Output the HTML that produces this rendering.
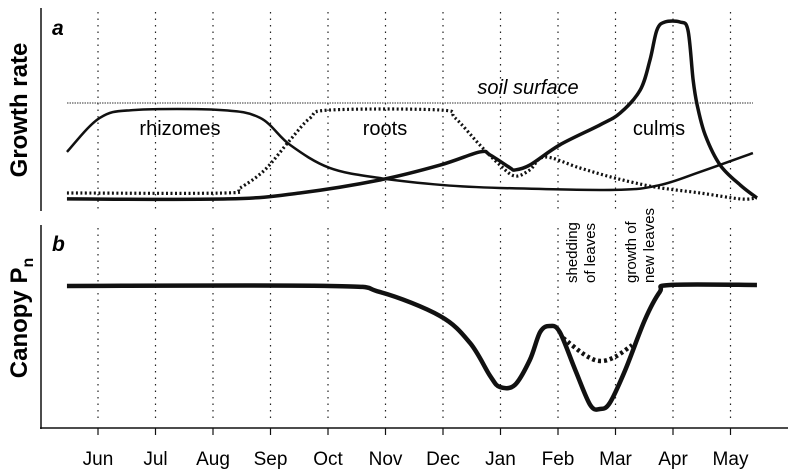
<!DOCTYPE html>
<html><head><meta charset="utf-8"><style>
body{margin:0;background:#fff}
svg{display:block;font-family:"Liberation Sans",Arial,sans-serif}
</style></head><body>
<svg id="chart" width="800" height="474" viewBox="0 0 800 474" xmlns="http://www.w3.org/2000/svg">
<g id="grid"></g>
<line x1="41" y1="8" x2="41" y2="211" stroke="#111" stroke-width="1.5"/>
<line x1="41" y1="225" x2="41" y2="429" stroke="#111" stroke-width="1.5"/>
<line x1="40" y1="428" x2="788" y2="428" stroke="#111" stroke-width="1.5"/>
<text transform="translate(27,110) rotate(-90)" text-anchor="middle" font-size="24" font-weight="bold">Growth rate</text>
<text transform="translate(27,318) rotate(-90)" text-anchor="middle" font-size="24" font-weight="bold">Canopy P<tspan font-size="16" dy="6">n</tspan></text>
<text x="52" y="35" font-size="21" font-weight="bold" font-style="italic">a</text>
<text x="52" y="251" font-size="21" font-weight="bold" font-style="italic">b</text>
<line x1="67" y1="103" x2="753" y2="103" stroke="#333" stroke-width="1" stroke-dasharray="1.5,1"/>
<text x="528" y="94" text-anchor="middle" font-size="20" font-style="italic">soil surface</text>
<text x="180" y="135" text-anchor="middle" font-size="20">rhizomes</text>
<text x="385" y="135" text-anchor="middle" font-size="20">roots</text>
<text x="659" y="135" text-anchor="middle" font-size="20">culms</text>
<text transform="translate(577,283) rotate(-90)" font-size="15">shedding</text>
<text transform="translate(595,283) rotate(-90)" font-size="15">of leaves</text>
<text transform="translate(636,283) rotate(-90)" font-size="15">growth of</text>
<text transform="translate(654,283) rotate(-90)" font-size="15">new leaves</text>
<g id="series"></g>
<g id="xaxis"></g>
</svg>
<script>
const months=["Jun","Jul","Aug","Sep","Oct","Nov","Dec","Jan","Feb","Mar","Apr","May"];
const rhizomeX=[-0.54,0.03,0.64,2.12,2.82,3.34,4.03,4.9,6.0,6.99,8.99,9.77,10.47,11.39];
const rhizomeV=[26.7,45.6,50,50,45.6,30.6,17.8,12.2,8.3,6.7,5.6,8.3,15.6,26.1];
const rootX=[-0.54,2.21,2.47,2.9,3.34,3.69,4.03,5.95,6.21,6.64,6.99,7.25,7.51,7.77,8.38,8.99,9.69,10.47,11.17,11.46];
const rootV=[3.9,3.9,6.7,16.7,33.3,45.6,50,50,45.6,30.6,19.4,13.3,16.7,23.9,17.8,12.2,7.2,3.9,0.6,1.1];
const culmX=[-0.54,2.26,3.51,4.9,5.95,6.64,6.82,7.17,7.25,7.51,8.03,8.73,9.08,9.43,9.6,9.72,9.86,10.12,10.26,10.35,10.42,10.56,10.82,11.17,11.46];
const culmV=[0.6,0.6,3.9,11.1,19.4,26.7,25,17.8,16.7,19.4,30.6,41.7,48.3,61.1,77.8,94.4,98.9,98.9,94.4,66.7,52.8,36.1,19.4,8.3,1.1];
const pnX=[-0.54,4.03,4.9,5.95,6.47,6.82,6.99,7.25,7.51,7.69,7.86,8.03,8.3,8.56,8.73,8.9,9.17,9.51,9.77,9.95,11.46];
const pnV=[88.6,88.6,84.3,67.1,47.9,24.3,16.4,17.9,35.7,55.7,60,55.7,28.6,3.6,0.7,5,28.6,64.3,84.3,89.3,89.3];
const altX=[8.09,8.47,8.73,8.99,9.29];
const altV=[51.4,39.3,35,37.9,46.4];
const xS=i=>98+57.5*i;
const yA=v=>200-v*1.8;
const yB=v=>410-v*1.4;
const NS="http://www.w3.org/2000/svg";
function mk(t,a,p){const e=document.createElementNS(NS,t);for(const k in a)e.setAttribute(k,a[k]);p.appendChild(e);return e;}
function path(xs,vs,ys){const P=xs.map((x,i)=>[xS(x),ys(vs[i])]);let d="M"+P[0][0]+","+P[0][1];
for(let i=0;i<P.length-1;i++){const p0=P[i-1]||P[i],p1=P[i],p2=P[i+1],p3=P[i+2]||p2;
d+=" C"+(p1[0]+(p2[0]-p0[0])/6)+","+(p1[1]+(p2[1]-p0[1])/6)+" "+(p2[0]-(p3[0]-p1[0])/6)+","+(p2[1]-(p3[1]-p1[1])/6)+" "+p2[0]+","+p2[1];}return d;}
const grid=document.getElementById('grid'),ser=document.getElementById('series'),xa=document.getElementById('xaxis');
months.forEach((m,i)=>{
 let l=mk('line',{x1:xS(i),x2:xS(i),y1:12,y2:210,stroke:'#222','stroke-width':1.2,'stroke-dasharray':'1.5,5'},grid);
 
 
 let l2=mk('line',{x1:xS(i),x2:xS(i),y1:228,y2:421,stroke:'#222','stroke-width':1.2,'stroke-dasharray':'1.5,5'},grid);
 
 
 let t=mk('line',{x1:xS(i),x2:xS(i),y1:428,y2:435,stroke:'#111','stroke-width':1.2},xa);
 
 
 let tx=mk('text',{x:xS(i),y:465,'text-anchor':'middle','font-size':19},xa);tx.textContent=m;
 
 
});
let r=mk('path',{d:path(rootX,rootV,yA),fill:'none',stroke:'#111','stroke-width':3.2,'stroke-dasharray':'2,2.5'},ser);


let rh=mk('path',{d:path(rhizomeX,rhizomeV,yA),fill:'none',stroke:'#111','stroke-width':2.5},ser);


let c=mk('path',{d:path(culmX,culmV,yA),fill:'none',stroke:'#111','stroke-width':3.5},ser);


let p=mk('path',{d:path(pnX,pnV,yB),fill:'none',stroke:'#111','stroke-width':4.5},ser);


let a=mk('path',{d:path(altX,altV,yB),fill:'none',stroke:'#111','stroke-width':4.5,'stroke-dasharray':'3,3'},ser);


</script>
</body></html>
